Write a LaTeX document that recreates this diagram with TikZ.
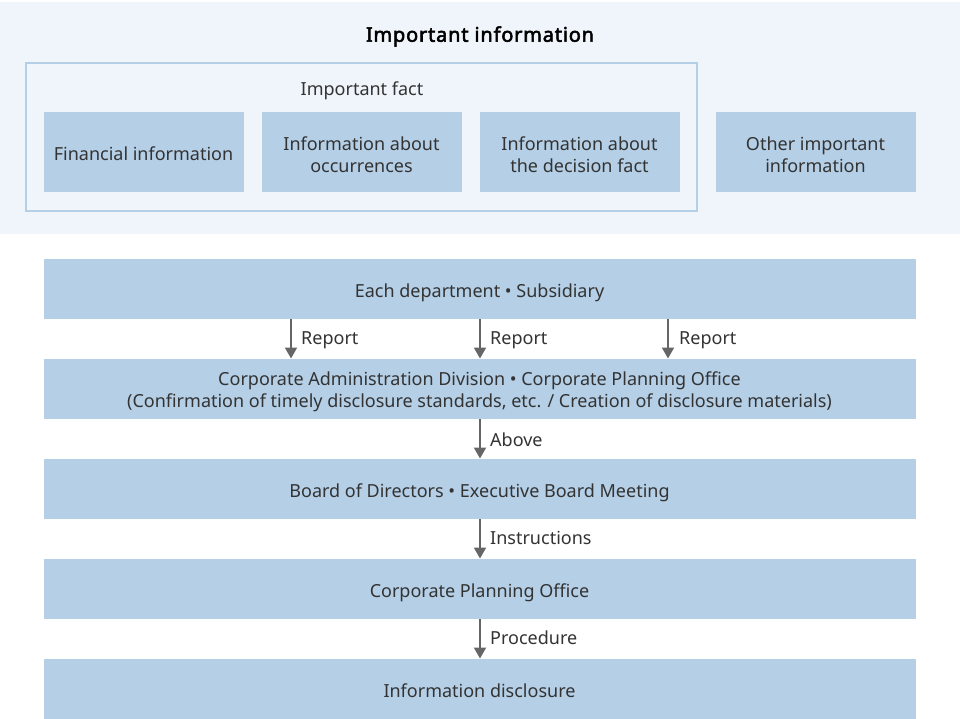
\documentclass[tikz,border=0pt]{standalone}
\usepackage{fontspec}
\setmainfont{Noto Sans}
\newfontfamily\titlefont{Noto Sans}[FakeBold=2.6,LetterSpace=4]
\usetikzlibrary{arrows.meta}
\definecolor{bandbg}{HTML}{EFF5FA}
\definecolor{boxfill}{HTML}{B5CFE6}
\definecolor{txt}{HTML}{333333}
\definecolor{arr}{HTML}{666666}
\tikzset{
  x=1pt,y=-1pt,
  bodyfont/.style={font=\fontsize{18}{22}\selectfont},
  infobox/.style={fill=boxfill,minimum width=200pt,minimum height=80pt,inner sep=0pt},
  flowbox/.style={fill=boxfill,minimum width=872pt,minimum height=60pt,inner sep=0pt},
  btxt/.style={text=txt,bodyfont,anchor=base,inner sep=0pt},
  flowarrow/.style={draw=arr,line width=2pt,-{Triangle[length=11pt,width=12pt]}},
  lbl/.style={text=txt,bodyfont,anchor=base west,inner sep=0pt}
}
\begin{document}
\begin{tikzpicture}
\useasboundingbox (0,0) rectangle (960,719);
\fill[white] (0,0) rectangle (960,719);
\fill[bandbg] (0,2) rectangle (960,234);
\node[font=\titlefont\fontsize{20}{24}\selectfont,text=black,anchor=base,inner sep=0pt] (title) at (480,41.7) {Important information};
\draw[boxfill,line width=2pt] (26,63) rectangle (697,211);
\node[btxt] (fact) at (362,95.7) {Important fact};

\node[infobox] (fin) at (143.5,152.5) {};
\node[infobox] (occ) at (361.5,152.5) {};
\node[infobox] (dec) at (579.5,152.5) {};
\node[infobox] (oth) at (815.5,152.5) {};
\node[btxt] (finT) at (143.5,161) {Financial information};
\node[btxt] (occT1) at (361.5,150.5) {Information about};
\node[btxt] (occT2) at (361.5,172.5) {occurrences};
\node[btxt] (decT1) at (579.5,150.5) {Information about};
\node[btxt] (decT2) at (579.5,172.5) {the decision fact};
\node[btxt] (othT1) at (815.5,150.5) {Other important};
\node[btxt] (othT2) at (815.5,172.5) {information};

\node[flowbox] (dept) at (479.5,288.5) {};
\node[flowbox] (adm) at (479.5,388.5) {};
\node[flowbox] (board) at (479.5,488.5) {};
\node[flowbox] (cpo) at (479.5,588.5) {};
\node[flowbox] (disc) at (479.5,688.5) {};
\node[btxt] (deptT) at (479.5,297.3) {Each department • Subsidiary};
\node[btxt] (admT1) at (479.5,385.5) {Corporate Administration Division • Corporate Planning Office};
\node[btxt] (admT2) at (479.5,407.8) {(Confirmation of timely disclosure standards, etc. / Creation of disclosure materials)};
\node[btxt] (boardT) at (479.5,497.3) {Board of Directors • Executive Board Meeting};
\node[btxt] (cpoT) at (479.5,597.3) {Corporate Planning Office};
\node[btxt] (discT) at (479.5,697.3) {Information disclosure};

\coordinate (a1s) at (291,319); \coordinate (a1e) at (291,358.5);
\coordinate (a2s) at (480,319); \coordinate (a2e) at (480,358.5);
\coordinate (a3s) at (668,319); \coordinate (a3e) at (668,358.5);
\draw[flowarrow] (a1s) -- (a1e);
\draw[flowarrow] (a2s) -- (a2e);
\draw[flowarrow] (a3s) -- (a3e);
\node[lbl] (r1) at (301,344.5) {Report};
\node[lbl] (r2) at (490,344.5) {Report};
\node[lbl] (r3) at (679,344.5) {Report};

\coordinate (b1s) at (480,419); \coordinate (b1e) at (480,458.5);
\coordinate (b2s) at (480,519); \coordinate (b2e) at (480,558.5);
\coordinate (b3s) at (480,619); \coordinate (b3e) at (480,658.5);
\draw[flowarrow] (b1s) -- (b1e);
\node[lbl] (above) at (490,446.5) {Above};
\draw[flowarrow] (b2s) -- (b2e);
\node[lbl] (instr) at (490,544.5) {Instructions};
\draw[flowarrow] (b3s) -- (b3e);
\node[lbl] (proc) at (490,644.5) {Procedure};
\end{tikzpicture}
\end{document}
